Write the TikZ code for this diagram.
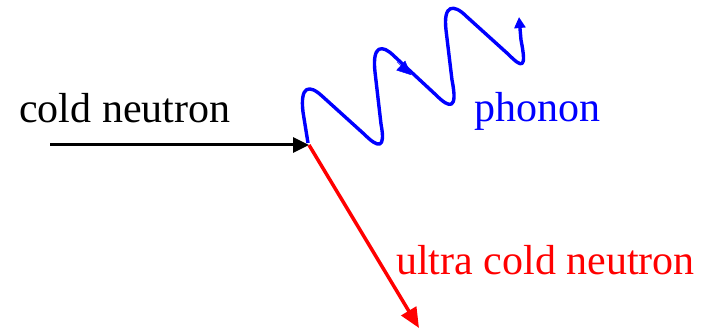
\documentclass[tikz,border=0pt]{standalone}
\usepackage{fontspec}
\setmainfont{Liberation Serif}
\usetikzlibrary{arrows.meta}
\begin{document}
\begin{tikzpicture}[x=1pt,y=-1pt,
  lbl/.style={anchor=base west,inner sep=0pt,font=\fontsize{42}{50}\selectfont},
  beam/.style={line width=3pt},
]
\useasboundingbox (0,0) rectangle (702,331);
\coordinate (a) at (50,145);
\coordinate (v) at (309,145);
\coordinate (e) at (419,328);
\coordinate (w) at (519,17);
\node[lbl] (cn) at (19,123) {cold neutron};
\node[lbl,text=blue] (ph) at (474,122) {phonon};
\node[lbl,text=red] (ucn) at (396,275) {ultra cold neutron};
\draw[beam,black,-{Triangle[length=16pt,width=15pt]}] (a) -- (v);
\draw[beam,red,line width=3.5pt,-{Triangle[length=20pt,width=17pt]}] (v) -- (e);
\draw[beam,blue,line width=3.4pt,line join=round,-{Triangle[length=11pt,width=11pt]}]
  (308,143) -- (303,112)
  .. controls (300,86) and (309,84) .. (322,96) -- (364,134)
  .. controls (378,148) and (386,150) .. (381,124) -- (375,72)
  .. controls (372,45) and (382,44) .. (394,56) -- (436,95)
  .. controls (450,109) and (458,110) .. (452,80) -- (446,30)
  .. controls (443,4) and (454,4) .. (466,16) -- (508,54)
  .. controls (522,68) and (527,70) .. (521,40) -- (w);
\draw[blue,-{Triangle[length=14pt,width=13pt]}] (397,62) -- (411,75);
\end{tikzpicture}
\end{document}
